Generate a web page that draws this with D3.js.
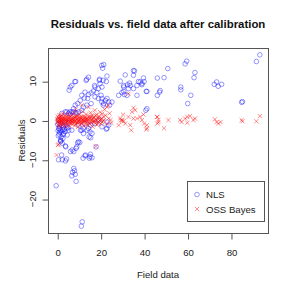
<!DOCTYPE html>
<html>
<head>
<meta charset="utf-8">
<script src="https://cdn.jsdelivr.net/npm/d3@7"></script>
<style>
  body { margin: 0; background: #fff; }
  svg { display: block; font-family: "Liberation Sans", Arial, sans-serif; }
</style>
</head>
<body>
<div id="main"></div>
<script>

var width = 293,
    height = 293;

var margin = {left: 48, right: 25, top: 48, bottom: 60};

var title = "Residuals vs. field data after calibration";
var xLabel = "Field data";
var yLabel = "Residuals";
var xTicks = [0, 20, 40, 60, 80];
var yTicks = [-20, -10, 0, 10];
var seriesNames = ["NLS", "OSS Bayes"];

// NLS residuals: [field value, residual]
var nlsPoints = [
    [20.9,13.3],[20.5,14.0],[21.4,14.2],[13.6,10.5],[14.4,11.0],[13.3,10.2],[8.5,9.9],[8.1,9.9],
    [6.0,8.5],[5.5,7.7],[6.7,8.9],[19.4,10.2],[19.7,9.4],[19.5,10.5],[21.1,10.2],[22.6,9.9],
    [22.9,11.3],[18.9,8.1],[17.4,8.5],[17.2,8.9],[16.7,7.5],[18.2,7.1],[20.6,8.5],[20.2,6.4],
    [12.8,7.2],[14.4,6.6],[15.6,7.0],[11.3,6.4],[12.5,5.7],[14.0,5.6],[10.6,5.1],[9.4,4.3],
    [8.3,3.9],[7.5,3.0],[6.7,2.2],[17.4,6.0],[18.9,5.6],[20.5,4.7],[21.2,3.9],[15.6,4.3],
    [13.6,3.9],[12.1,3.4],[11.3,2.6],[9.8,2.2],[5.2,1.8],[3.7,2.2],[20.6,5.6],[22.2,5.1],
    [23.7,4.7],[25.2,4.7],[21.4,4.3],[24.1,3.9],[22.9,5.6],
    [29.0,10.0],[30.6,8.9],[31.3,11.6],[32.4,9.1],[33.3,9.5],[35.1,12.7],[35.6,12.6],[35.1,11.5],
    [37.4,9.9],[38.2,9.8],[39.7,10.8],[40.0,9.9],[39.0,9.4],[36.7,8.9],[39.0,9.1],[35.1,8.1],
    [33.6,8.9],[32.8,8.1],[30.6,8.5],[30.6,7.4],[29.8,7.1],[30.9,6.6],[28.3,6.4],[32.1,6.4],
    [36.7,6.4],[41.0,7.4],[41.3,7.4],[46.1,10.8],[46.1,6.4],[41.3,3.0],[40.8,2.6],[22.6,-2.2],
    [49.2,10.9],[50.9,13.2],[47.1,7.2],[47.4,7.6],[56.9,8.5],[56.9,7.8],[58.9,14.4],[59.6,15.1],
    [63.4,12.2],[63.0,10.9],[61.5,6.4],[60.1,4.3],[72.3,9.2],[73.4,9.8],[74.1,8.7],[75.7,9.2],
    [84.9,4.6],[85.3,4.8],[93.3,16.7],[91.7,15.0],
    [-0.5,-16.6],[1.5,-5.4],[1.7,-5.2],[2.0,-8.8],[2.3,-10.0],[3.8,-10.3],[4.3,-9.8],[0.6,-10.0],
    [3.9,-6.7],[3.8,-6.5],[7.6,-12.2],[7.9,-12.8],[6.7,-14.1],[8.7,-15.5],[7.0,-13.2],[8.3,-13.7],
    [11.5,-25.8],[11.1,-26.9],[9.4,-5.7],[10.4,-5.6],[8.7,-7.1],[7.6,-7.9],[6.9,-7.5],[6.1,-7.9],
    [9.0,-6.7],[9.8,-5.4],[13.0,-8.8],[11.9,-9.6],[15.3,-8.6],[14.8,-9.6],[16.0,-9.5],[12.8,-9.0],
    [15.1,-9.2],[17.9,-6.7],[14.7,-4.2],[15.4,-4.4],
    [2.1,1.8],[4.4,2.2],[6.0,1.6],[7.5,2.2],[9.0,1.9],[1.4,-0.8],[2.9,-1.6],[2.1,-2.9],
    [4.4,-2.0],[6.7,-2.5],[9.8,-1.2],[11.3,-2.5],[12.1,-3.3],[14.4,-2.0],[15.1,-2.9],[17.4,-0.8],
    [12.8,-0.8],[0.6,0.1],[5.2,-0.6],[0.7,-2.0],[1.5,-2.5],[2.3,-1.2],[3.0,-3.3],[5.3,-2.5],
    [4.6,-3.7],[1.5,-5.0],[2.3,-5.8],[5.8,2.2],[8.4,1.9],[10.7,-2.5],[11.9,-2.0],[13.8,-2.5],
    [15.3,-1.2],[16.0,-3.3],[19.1,0.1],[20.6,-1.6],[22.9,-0.4],[23.7,-1.2],[22.9,-2.0],
    [0.2,-1.0],[0.9,-3.5],[1.8,-4.2],[3.5,-0.5],[2.6,-4.6],[4.0,-1.2],[0.4,-2.6],[3.2,-2.2],
    [0.9,-2.2],[1.2,-3.0],[2.7,-3.6],[3.6,-2.8],[1.0,-1.4],[2.5,-2.4],[4.9,-1.8],[0.5,-3.9]
];

// OSS Bayes residuals: [field value, residual]
var ossPoints = [
    [0.0,0.3],[0.2,-0.5],[0.3,1.0],[0.4,-1.2],[0.5,0.0],[0.6,0.7],[0.8,-0.3],[0.9,1.4],
    [1.0,-0.8],[1.1,0.2],[1.2,-1.6],[1.3,0.9],[1.5,-0.1],[1.6,0.5],[1.7,-1.0],[1.9,1.2],
    [2.0,0.0],[2.1,-0.6],[2.3,0.4],[2.4,1.7],[2.5,-1.3],[2.7,0.1],[2.8,-0.4],[3.0,0.8],
    [3.1,-0.9],[3.3,0.3],[3.4,1.3],[3.6,-0.2],[3.7,-1.5],[3.9,0.6],[4.0,0.0],[4.2,-0.7],
    [4.3,1.0],[4.5,-0.3],[4.7,0.4],[4.8,-1.1],[5.0,1.6],[5.1,0.1],[5.3,-0.5],[5.5,0.7],
    [5.6,-1.4],[5.8,0.2],[6.0,1.1],[6.1,-0.8],[6.3,0.0],[6.5,0.5],[6.6,-0.3],[6.8,1.4],
    [7.0,-1.0],[7.1,0.3],[7.3,-0.1],[7.5,0.8],[7.6,-0.6],[7.8,1.9],[8.0,0.1],[8.1,-1.3],
    [8.3,0.6],[8.5,-0.2],[8.7,1.0],[8.8,-0.9],[9.0,0.3],[9.2,-0.4],[9.4,1.2],[9.5,-1.7],
    [9.7,0.0],[9.9,0.7],[10.1,-0.5],[10.3,1.5],[10.5,0.2],[10.6,-1.1],[10.8,0.5],[11.0,-0.2],
    [11.2,0.9],[11.4,-0.8],[11.6,2.3],[11.8,0.1],[12.0,-0.4],[12.2,1.1],[12.4,-1.4],[12.6,0.4],
    [12.8,0.0],[13.0,0.8],[13.2,-0.7],[13.4,1.6],[13.6,-0.1],[13.8,0.5],[14.0,-1.2],[14.2,0.2],
    [14.4,3.4],[14.6,-0.3],[14.8,1.0],[15.0,-0.9],[15.2,0.6],[15.4,2.0],[15.6,-0.4],[15.8,0.1],
    [16.0,1.3],[16.3,-1.6],[16.5,0.4],[16.8,-0.2],[17.0,0.9],[17.3,2.6],[17.5,-0.7],[17.8,0.2],
    [18.0,1.5],[18.3,-1.1],[18.6,0.6],[18.9,-0.3],[19.2,1.1],[19.5,0.0],[19.8,2.1],[20.1,-0.9],
    [20.4,0.5],[20.7,1.7],[21.0,-0.2],[21.4,0.9],[21.8,2.8],[22.2,1.3],[22.9,3.4],[22.9,-0.8],
    [23.5,3.9],[23.7,0.5],[24.1,1.8],[24.5,0.1],[21.4,0.1],[24.9,-0.6],
    [0.1,-0.2],[0.7,0.4],[1.4,-0.6],[1.8,0.8],[2.2,-0.2],[2.9,0.5],[3.5,-0.6],[4.1,0.3],
    [4.6,-0.1],[5.2,0.9],[5.9,-0.4],[6.4,0.2],[6.9,-0.5],[7.4,0.5],[7.9,-0.2],[8.4,0.9],
    [8.9,-0.6],[9.3,0.5],[9.8,-0.3],[10.2,0.1],[10.7,0.9],[11.1,-0.6],[11.5,0.3],[12.1,-0.1],
    [12.5,0.7],[13.1,-0.3],[13.5,0.3],[14.1,0.8],[14.7,-0.7],[15.1,0.3],[15.7,0.9],[16.2,-0.3],
    [16.7,0.7],[17.2,-0.2],[17.7,1.2],[18.2,0.1],[18.8,-0.7],[19.4,0.6],[20.0,0.2],[20.6,-0.4],
    [0.3,-6.3],[0.6,-6.1],[-0.3,-8.8],[17.8,-6.6],[11.3,3.9],[8.5,2.8],
    [28.3,-1.2],[29.0,0.5],[29.4,0.0],[29.8,0.2],[30.0,-0.1],[30.3,1.5],[30.6,-0.2],[31.3,-0.8],
    [32.8,0.9],[32.8,6.8],[33.6,-1.2],[34.1,-2.5],[34.4,2.2],[35.1,3.2],[35.9,2.6],[35.1,0.5],
    [36.7,0.5],[38.2,0.9],[39.0,0.1],[39.7,1.5],[40.0,-0.8],[41.3,-1.2],[41.0,-2.3],[41.3,-2.0],
    [45.9,0.9],[46.1,0.9],[46.6,0.1],[46.1,-0.8],[46.6,-0.4],[49.2,-2.0],[51.2,0.1],[56.6,0.1],
    [57.3,-0.4],[58.9,0.5],[59.9,0.9],[59.9,-0.6],[61.1,1.1],[62.7,0.1],[63.4,0.5],[72.6,0.3],
    [73.4,-0.4],[74.1,-0.8],[75.2,-0.4],[84.9,0.1],[85.3,-0.2],[91.7,-0.2],[93.3,1.1]
];

var NLS_COLOR = "rgba(0,0,255,0.45)",
    OSS_COLOR = "rgba(255,0,0,0.5)";
var R_CIRCLE = 2.3,
    X_HALF = 2.1;
var FONT = 9.6;

var svg = d3.select("div#main")
    .append("svg")
    .attr("width", width)
    .attr("height", height);

// R style axis range: data range extended by 4% on each side
function padded(values) {
    var ext = d3.extent(values);
    var pad = (ext[1] - ext[0]) * 0.04;
    return [ext[0] - pad, ext[1] + pad];
}

var all = nlsPoints.concat(ossPoints);

var x = d3.scaleLinear()
    .domain(padded(all.map(function(d) { return d[0]; })))
    .range([margin.left, width - margin.right]);

var y = d3.scaleLinear()
    .domain(padded(all.map(function(d) { return d[1]; })))
    .range([height - margin.bottom, margin.top]);

var plotW = width - margin.left - margin.right,
    plotH = height - margin.top - margin.bottom;

// points
svg.append("g")
    .selectAll("circle")
    .data(nlsPoints)
    .enter().append("circle")
    .attr("cx", function(d) { return x(d[0]); })
    .attr("cy", function(d) { return y(d[1]); })
    .attr("r", R_CIRCLE)
    .attr("fill", "none")
    .attr("stroke", NLS_COLOR)
    .attr("stroke-width", 0.9);

function crossPath(cx, cy, s) {
    return "M" + (cx - s) + "," + (cy - s) + "L" + (cx + s) + "," + (cy + s) +
           "M" + (cx - s) + "," + (cy + s) + "L" + (cx + s) + "," + (cy - s);
}

svg.append("g")
    .selectAll("path")
    .data(ossPoints)
    .enter().append("path")
    .attr("d", function(d) { return crossPath(x(d[0]), y(d[1]), X_HALF); })
    .attr("fill", "none")
    .attr("stroke", OSS_COLOR)
    .attr("stroke-width", 0.9);

// frame
svg.append("rect")
    .attr("x", margin.left + 0.5)
    .attr("y", margin.top + 0.5)
    .attr("width", plotW)
    .attr("height", plotH)
    .attr("fill", "none")
    .attr("stroke", "#555")
    .attr("stroke-width", 1);

// axes
var xAxis = svg.append("g")
    .attr("transform", `translate(0.5,${height - margin.bottom + 0.5})`)
    .call(d3.axisBottom(x).tickValues(xTicks).tickSize(6).tickPadding(10).tickSizeOuter(0));

var yAxis = svg.append("g")
    .attr("transform", `translate(${margin.left + 0.5},0.5)`)
    .call(d3.axisLeft(y).tickValues(yTicks).tickSize(6).tickSizeOuter(0).tickFormat(""));

[xAxis, yAxis].forEach(function(a) {
    a.select(".domain").attr("stroke", "#555");
    a.selectAll(".tick line").attr("stroke", "#555");
});

// R axis line only spans first..last tick
xAxis.select(".domain").attr("d", `M${x(xTicks[0]) - 0.5},0H${x(xTicks[xTicks.length - 1]) - 0.5}`);
yAxis.select(".domain").attr("d", `M0,${y(yTicks[0]) - 0.5}V${y(yTicks[yTicks.length - 1]) - 0.5}`);

xAxis.selectAll(".tick text")
    .attr("font-size", FONT)
    .attr("font-family", "Liberation Sans, Arial, sans-serif")
    .attr("fill", "#222");

svg.append("g")
    .selectAll("text")
    .data(yTicks)
    .enter().append("text")
    .attr("transform", function(d) { return `translate(35.5,${y(d)}) rotate(-90)`; })
    .attr("text-anchor", "middle")
    .attr("font-size", FONT)
    .attr("fill", "#222")
    .text(function(d) { return d < 0 ? "\u2212" + Math.abs(d) : d; });

// titles
svg.append("text")
    .attr("x", margin.left + plotW / 2)
    .attr("y", 28)
    .attr("text-anchor", "middle")
    .attr("font-size", 11.4)
    .attr("font-weight", "bold")
    .attr("fill", "#111")
    .text(title);

svg.append("text")
    .attr("x", margin.left + plotW / 2)
    .attr("y", 277.5)
    .attr("text-anchor", "middle")
    .attr("font-size", FONT)
    .attr("fill", "#222")
    .text(xLabel);

svg.append("text")
    .attr("transform", `translate(24.5,${margin.top + plotH / 2}) rotate(-90)`)
    .attr("text-anchor", "middle")
    .attr("font-size", FONT)
    .attr("fill", "#222")
    .text(yLabel);

// legend
var legend = svg.append("g")
    .attr("transform", "translate(187.5,181.5)");

legend.append("rect")
    .attr("width", 77)
    .attr("height", 40)
    .attr("fill", "#fff")
    .attr("stroke", "#555");

legend.append("circle")
    .attr("cx", 9.5)
    .attr("cy", 13)
    .attr("r", R_CIRCLE)
    .attr("fill", "none")
    .attr("stroke", NLS_COLOR)
    .attr("stroke-width", 0.9);

legend.append("path")
    .attr("d", crossPath(9.5, 27.5, X_HALF))
    .attr("fill", "none")
    .attr("stroke", OSS_COLOR)
    .attr("stroke-width", 0.9);

legend.selectAll("text.lab")
    .data(seriesNames)
    .enter().append("text")
    .attr("class", "lab")
    .attr("x", 18.5)
    .attr("y", function(d, i) { return 16.5 + i * 14.5; })
    .attr("font-size", FONT)
    .attr("fill", "#222")
    .text(function(d) { return d; });

</script>
</body>
</html>
